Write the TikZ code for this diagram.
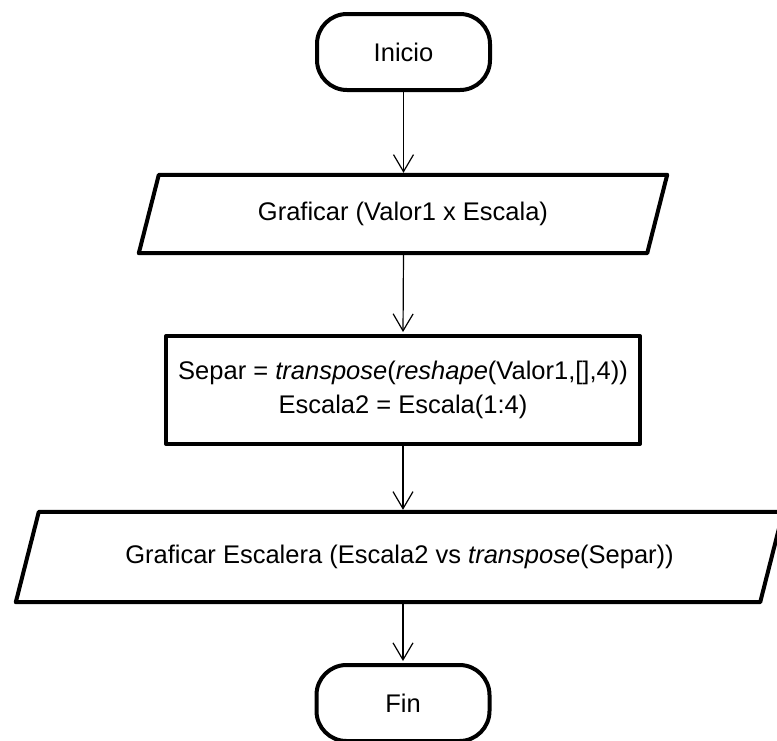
\documentclass[tikz,border=0pt]{standalone}
\usepackage{fontspec}
\setmainfont{Liberation Sans}
\usetikzlibrary{arrows.meta}
\begin{document}
\begin{tikzpicture}[x=1pt,y=-1pt,
  every node/.style={font=\fontsize{25.5}{34}\selectfont, inner sep=0pt, align=center},
  heavy/.style={draw=black, line width=4pt, line join=round},
  terminal/.style={heavy, rounded corners=30pt, minimum width=173pt, minimum height=76pt},
  process/.style={heavy, minimum width=474pt, minimum height=108pt},
  arr/.style={draw=black, line width=1.2pt, -{Straight Barb[length=17pt,width=20pt]}, shorten >=2pt}
]
\useasboundingbox (0,0) rectangle (777,740);

% start / end terminals
\node[terminal] (ini) at (403.5,52) {Inicio};
\node[terminal] (fin) at (403,703) {Fin};

% first input/output block
\node[minimum width=508pt, minimum height=78pt] (g1) at (403,214) {Graficar (Valor1 x Escala)};
\draw[heavy] ([xshift=-10pt]g1.south west) -- ([xshift=10pt]g1.north west)
  -- ([xshift=10pt]g1.north east) -- ([xshift=-10pt]g1.south east) -- cycle;

% process block
\node[process] (proc) at (403,390)
  {Separ = \textit{transpose}(\textit{reshape}(Valor1,[],4))\\Escala2 = Escala(1:4)};

% second input/output block
\node[minimum width=744pt, minimum height=90pt] (g2) at (399.5,557)
  {Graficar Escalera (Escala2 vs \textit{transpose}(Separ))};
\draw[heavy] ([xshift=-11.5pt]g2.south west) -- ([xshift=11.5pt]g2.north west)
  -- ([xshift=11.5pt]g2.north east) -- ([xshift=-11.5pt]g2.south east) -- cycle;

% connectors
\draw[arr] (ini.south) -- (ini.south |- g1.north);
\draw[arr] (g1.south -| ini.south) -- (proc.north);
\draw[arr] (proc.south) -- (proc.south |- g2.north);
\draw[arr] (g2.south -| proc.south) -- (fin.north);
\end{tikzpicture}
\end{document}
